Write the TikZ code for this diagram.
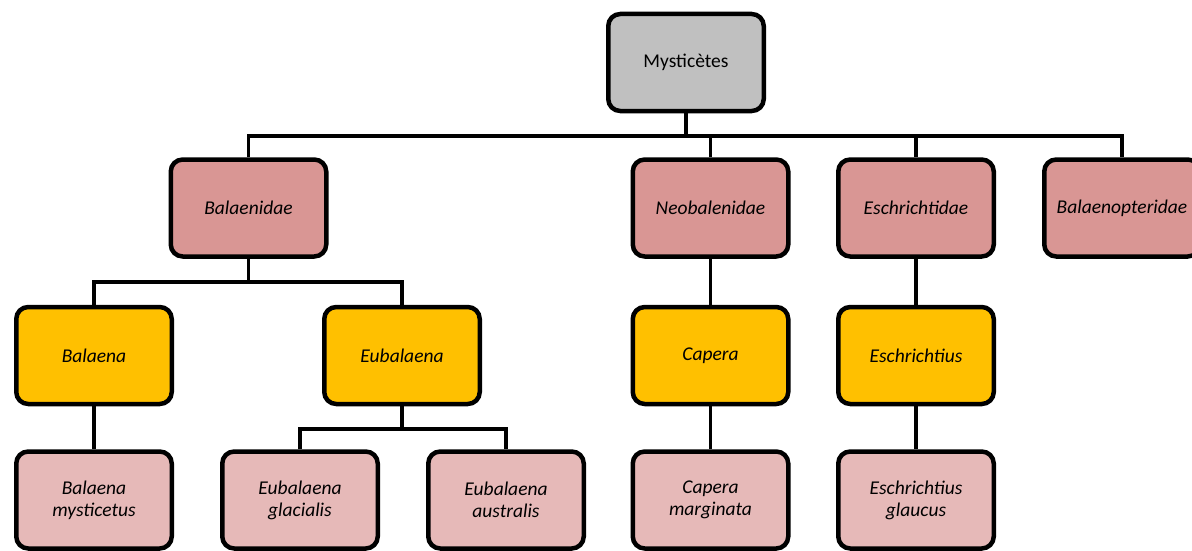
\documentclass[tikz,border=0pt]{standalone}
\usepackage{fontspec}
\setmainfont{Carlito}
\begin{document}
\begin{tikzpicture}[x=1pt,y=-1pt,
  box/.style={draw=black,line width=4.5pt,rounded corners=12pt,
    minimum width=155.5pt,minimum height=97pt,inner sep=2pt,align=center,
    font=\fontsize{19.5}{22}\selectfont\itshape,text=black},
  rootbox/.style={box,fill=rootgray,font=\fontsize{19.5}{22}\selectfont},
  fambox/.style={box,fill=famred},
  genbox/.style={box,fill=genyellow},
  spbox/.style={box,fill=sppink},
  link/.style={draw=black,line width=3.5pt}]
\definecolor{rootgray}{HTML}{C0C0C0}
\definecolor{famred}{HTML}{D99694}
\definecolor{genyellow}{HTML}{FFC000}
\definecolor{sppink}{HTML}{E6B9B8}
\useasboundingbox (0,0) rectangle (1192,551);
\clip (0,0) rectangle (1192,551);
% bar levels
\coordinate (b1) at (0,136);
\coordinate (b2) at (0,282);
\coordinate (b3) at (0,429);
% nodes
\node[rootbox] (m) at (686,62.5) {Mysticètes};
\node[fambox] (bal) at (248.5,208) {Balaenidae};
\node[fambox] (neo) at (710.5,208) {Neobalenidae};
\node[fambox] (esc) at (916,208) {Eschrichtidae};
\node[fambox] (bpt) at (1122,208) {Balaenopteridae};
\node[genbox] (ga) at (94,355.5) {Balaena};
\node[genbox] (gb) at (402,355.5) {Eubalaena};
\node[genbox] (gc) at (710.5,355.5) {Capera};
\node[genbox] (gd) at (916,355.5) {Eschrichtius};
\node[spbox] (sa) at (94,500) {Balaena\\mysticetus};
\node[spbox] (sb) at (300,500) {Eubalaena\\glacialis};
\node[spbox] (sc) at (506,500) {Eubalaena\\australis};
\node[spbox] (sd) at (710.5,500) {Capera\\marginata};
\node[spbox] (se) at (916,500) {Eschrichtius\\glaucus};
% connectors
\path[link] (m.south) -- (m.south |- b1);
\path[link] (bal.north) |- (b1 -| bpt.north) -- (bpt.north);
\path[link] (neo.north) -- (neo.north |- b1);
\path[link] (esc.north) -- (esc.north |- b1);
\path[link] (bal.south) -- (bal.south |- b2);
\path[link] (ga.north) |- (b2 -| gb.north) -- (gb.north);
\path[link] (neo.south) -- (gc.north);
\path[link] (esc.south) -- (gd.north);
\path[link] (ga.south) -- (sa.north);
\path[link] (gb.south) -- (gb.south |- b3);
\path[link] (sb.north) |- (b3 -| sc.north) -- (sc.north);
\path[link] (gc.south) -- (sd.north);
\path[link] (gd.south) -- (se.north);
\end{tikzpicture}
\end{document}
